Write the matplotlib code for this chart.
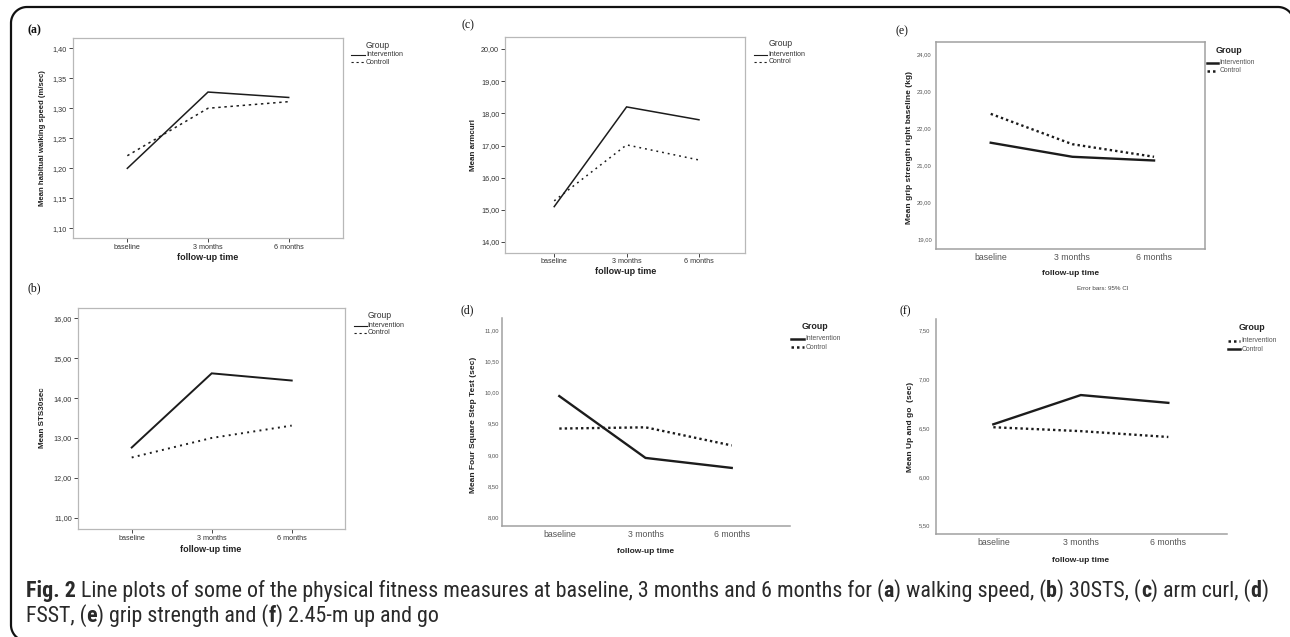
import matplotlib
matplotlib.use("Agg")
import matplotlib.pyplot as plt
import numpy as np
from matplotlib import font_manager
from matplotlib.lines import Line2D

W, H = 1290, 637

times = ["baseline", "3 months", "6 months"]

# (a) walking speed
walk_int = [1.200, 1.327, 1.318]
walk_ctl = [1.221, 1.300, 1.311]
walk_ticks = [1.10, 1.15, 1.20, 1.25, 1.30, 1.35, 1.40]
# (b) 30 sec sit to stand
sts_int = [12.76, 14.62, 14.44]
sts_ctl = [12.51, 13.00, 13.31]
sts_ticks = [11, 12, 13, 14, 15, 16]
# (c) arm curl
arm_int = [15.10, 18.20, 17.80]
arm_ctl = [15.28, 17.02, 16.55]
arm_ticks = [14, 15, 16, 17, 18, 19, 20]
# (d) four square step test
fsst_int = [9.94, 8.95, 8.79]
fsst_ctl = [9.42, 9.44, 9.15]
fsst_ticks = [8.0, 8.5, 9.0, 9.5, 10.0, 10.5, 11.0]
# (e) grip strength
grip_int = [21.61, 21.23, 21.13]
grip_ctl = [22.39, 21.57, 21.23]
grip_ticks = [19, 20, 21, 22, 23, 24]
# (f) up and go
tug_int = [6.51, 6.47, 6.41]
tug_ctl = [6.54, 6.84, 6.76]
tug_ticks = [5.5, 6.0, 6.5, 7.0, 7.5]

installed = {f.name for f in font_manager.fontManager.ttflist}
SANS = "Liberation Sans" if "Liberation Sans" in installed else "DejaVu Sans"
SERIF = "Liberation Serif" if "Liberation Serif" in installed else "DejaVu Serif"


def weights_of(name):
    out = set()
    for f in font_manager.fontManager.ttflist:
        if f.name == name:
            w = f.weight
            if isinstance(w, str):
                w = font_manager.weight_dict.get(w, 400)
            out.add(int(w))
    return out


# caption face: a narrow family that has both a light/regular and a bold cut
CAP = dict(family="DejaVu Sans", stretch="condensed")
for name in ["Open Sans Condensed", "Liberation Sans Narrow", "Roboto Condensed"]:
    ws = weights_of(name)
    if any(w <= 400 for w in ws) and any(w >= 600 for w in ws):
        CAP = dict(family=name)
        break

plt.rcParams["font.family"] = SANS

fig = plt.figure(figsize=(W / 100, H / 100), dpi=100)
fig.patch.set_facecolor("white")


def px_axes(l, t, r, b):
    return fig.add_axes([l / W, 1 - b / H, (r - l) / W, (b - t) / H])


def ftxt(x, y, s, **kw):
    kw.setdefault("ha", "left")
    kw.setdefault("va", "center")
    return fig.text(x / W, 1 - y / H, s, **kw)


def fpath(xs, ys, **kw):
    fig.add_artist(Line2D(np.asarray(xs) / W, 1 - np.asarray(ys) / H,
                          transform=fig.transFigure, **kw))


def fline(x0, x1, y, **kw):
    fpath([x0, x1], [y, y], **kw)


def comma(v):
    return f"{v:.2f}".replace(".", ",")


INK = "#1c1c1c"


def old_panel(box, xlim, ylim, yticks, y_int, y_ctl, lw, ctl_dash):
    ax = px_axes(*box)
    x = np.arange(len(times))
    ax.plot(x, y_int, color=INK, lw=lw, solid_joinstyle="miter")
    ax.plot(x, y_ctl, color=INK, lw=lw, linestyle=ctl_dash)
    ax.set_xlim(xlim)
    ax.set_ylim(ylim)
    ax.set_xticks(x, times)
    ax.set_yticks(yticks, [comma(v) for v in yticks])
    for s in ax.spines.values():
        s.set_color("#b8b8b8")
        s.set_linewidth(0.9)
    ax.tick_params(length=3, width=0.7, color="#444", labelsize=5.2,
                   labelcolor="#333", pad=1.2)
    return ax


def new_panel(box, xlim, ylim, yticks, solid_y, dotted_y, full_box=False, ypad=2.5):
    ax = px_axes(*box)
    x = np.arange(len(times))
    ax.plot(x, solid_y, color=INK, lw=1.7, solid_joinstyle="miter")
    ax.plot(x, dotted_y, color=INK, lw=1.7, linestyle=(0, (1, 1.3)))
    ax.set_xlim(xlim)
    ax.set_ylim(ylim)
    ax.set_xticks(x, times)
    ax.set_yticks(yticks, [comma(v) for v in yticks])
    for name, s in ax.spines.items():
        s.set_color("#a0a0a0")
        s.set_linewidth(1.1)
        if not full_box and name in ("top", "right"):
            s.set_visible(False)
    ax.tick_params(axis="x", length=0, labelsize=6.3, labelcolor="#555", pad=3)
    ax.tick_params(axis="y", length=0, labelsize=4.2, labelcolor="#555", pad=ypad)
    return ax


def old_legend(x0, x1, yg, y1, y2, lab2):
    ftxt(x1 + 1, yg, "Group", fontsize=6.2, color="#333")
    fline(x0, x1, y1, color=INK, lw=0.8)
    fline(x0, x1, y2, color=INK, lw=0.8, linestyle=(0, (2, 2.5)))
    ftxt(x1 + 1, y1, "Intervention", fontsize=5.0, color="#333")
    ftxt(x1 + 1, y2, lab2, fontsize=5.0, color="#333")


def new_legend(x0, x1, gx, yg, y1, y2, first_dotted=False):
    ftxt(gx, yg, "Group", fontsize=6.4, fontweight="bold", color="#222", ha="center")
    st1 = (0, (1, 1.2)) if first_dotted else "-"
    st2 = "-" if first_dotted else (0, (1, 1.2))
    fline(x0, x1, y1, color=INK, lw=1.8, linestyle=st1)
    fline(x0, x1, y2, color=INK, lw=1.8, linestyle=st2)
    ftxt(x1 + 1.5, y1, "Intervention", fontsize=4.9, color="#555")
    ftxt(x1 + 1.5, y2, "Control", fontsize=4.9, color="#555")


# (a)
old_panel((72.7, 38, 343, 238), (-0.677, 2.673), (1.084, 1.417), walk_ticks,
          walk_int, walk_ctl, 1.1, (0, (1.6, 2.4)))
ftxt(42.7, 138, "Mean habitual walking speed (m/sec)", rotation=90, ha="center",
     fontsize=5.6, fontweight="bold", color="#222")
ftxt(208, 257, "follow-up time", ha="center", fontsize=6.5, fontweight="bold", color="#222")
old_legend(351, 365, 45, 55, 62, "Controll")
ftxt(27, 30, "(a)", family=SERIF, fontsize=8.5, fontweight="bold", color="#111")

# (b)
old_panel((77.7, 307.7, 345, 529), (-0.675, 2.666), (10.717, 16.266), sts_ticks,
          sts_int, sts_ctl, 1.4, (0, (1, 2.2)))
ftxt(42.7, 418, "Mean STS30sec", rotation=90, ha="center",
     fontsize=5.8, fontweight="bold", color="#222")
ftxt(211, 549.3, "follow-up time", ha="center", fontsize=6.5, fontweight="bold", color="#222")
old_legend(354, 366.7, 315, 325.7, 332.7, "Control")
ftxt(27, 288, "(b)", family=SERIF, fontsize=8.5, color="#111")

# (c)
old_panel((505, 37.3, 745, 252.5), (-0.68, 2.636), (13.674, 20.364), arm_ticks,
          arm_int, arm_ctl, 1.1, (0, (1.2, 2.6)))
ftxt(473.3, 145, "Mean armcurl", rotation=90, ha="center",
     fontsize=5.8, fontweight="bold", color="#222")
ftxt(626, 272, "follow-up time", ha="center", fontsize=6.5, fontweight="bold", color="#222")
old_legend(754, 767.3, 43.3, 55, 61.7, "Control")
ftxt(461, 25, "(c)", family=SERIF, fontsize=8.5, color="#111")

# (d)
new_panel((501.7, 318, 790, 525.7), (-0.668, 2.676), (7.865, 11.19), fsst_ticks,
          fsst_int, fsst_ctl, ypad=2.0)
ftxt(473.3, 425, "Mean Four Square Step Test (sec)", rotation=90, ha="center",
     fontsize=6.0, fontweight="bold", color="#222")
ftxt(646, 551.7, "follow-up time", ha="center", fontsize=6.0, fontweight="bold", color="#222")
new_legend(790.7, 804, 815, 326.7, 339, 347.3)
ftxt(460, 310, "(d)", family=SERIF, fontsize=8.5, color="#111")

# (e)
new_panel((936, 42.3, 1205, 249), (-0.67, 2.624), (18.738, 24.324), grip_ticks,
          grip_int, grip_ctl, full_box=True, ypad=3.0)
ftxt(909.3, 148, "Mean grip strength right baseline (kg)", rotation=90, ha="center",
     fontsize=6.0, fontweight="bold", color="#222")
ftxt(1071, 274, "follow-up time", ha="center", fontsize=6.0, fontweight="bold", color="#222")
ftxt(1103, 289, "Error bars: 95% CI", ha="center", fontsize=4.5, color="#444")
new_legend(1207, 1218, 1229, 50.7, 62.7, 70.7)
ftxt(895, 31.7, "(e)", family=SERIF, fontsize=8.5, color="#111")

# (f)
new_panel((936, 319, 1226.7, 534.3), (-0.655, 2.667), (5.412, 7.62), tug_ticks,
          tug_ctl, tug_int, ypad=4.5)
ftxt(910.7, 427, "Mean Up and go  (sec)", rotation=90, ha="center",
     fontsize=6.0, fontweight="bold", color="#222")
ftxt(1081, 561, "follow-up time", ha="center", fontsize=6.0, fontweight="bold", color="#222")
new_legend(1227.7, 1240, 1251.7, 327.7, 340.7, 349.3, first_dotted=True)
ftxt(900, 311.7, "(f)", family=SERIF, fontsize=8.5, color="#111")

# rounded outer frame: the right and bottom edges fall just outside the picture
R = 16
fl, ft, fr, fb = 11, 7, 1294, 641


def arc(cx, cy, t0, t1):
    t = np.radians(np.linspace(t0, t1, 24))
    return cx + R * np.cos(t), cy + R * np.sin(t)


bx, by = arc(fl + R, fb - R, 90, 180)
lx, ly = arc(fl + R, ft + R, 180, 270)
rx, ry = arc(fr - R, ft + R, 270, 360)
fx = np.concatenate([[fl + R + 12], bx, lx, rx, [fr]])
fy = np.concatenate([[fb], by, ly, ry, [ft + R + 30]])
fpath(fx, fy, color="#111", lw=1.6, solid_joinstyle="round")

# caption, drawn segment by segment so single letters can be bold
renderer = fig.canvas.get_renderer()


def seg_width(s, **kw):
    t1 = fig.text(0, 0, "|" + s + "|", **kw)
    t2 = fig.text(0, 0, "||", **kw)
    w = t1.get_window_extent(renderer).width - t2.get_window_extent(renderer).width
    t1.remove()
    t2.remove()
    return w


def caption_line(segs, x0, y, size, draw=True):
    x = x0
    for s, bold in segs:
        kw = dict(fontsize=size, fontweight="bold" if bold else "normal",
                  color="#2a2a2a", **CAP)
        w = seg_width(s, **kw)
        if draw:
            lead = w - seg_width(s.lstrip(), **kw)
            ftxt(x + lead, y, s.lstrip(), va="baseline", **kw)
        x += w
    return x - x0


line1 = [("Fig. 2", True),
         (" Line plots of some of the physical fitness measures at baseline, 3 months and 6 months for (", False),
         ("a", True), (") walking speed, (", False), ("b", True), (") 30STS, (", False),
         ("c", True), (") arm curl, (", False), ("d", True), (")", False)]
line2 = [("FSST, (", False), ("e", True), (") grip strength and (", False),
         ("f", True), (") 2.45-m up and go", False)]

w10 = caption_line(line1, 26, 597, 10, draw=False)
size = 10 * 1236 / w10
caption_line(line1, 26, 597, size)
caption_line(line2, 26, 622, size)

fig.savefig("out.png", dpi=100, facecolor="white")
